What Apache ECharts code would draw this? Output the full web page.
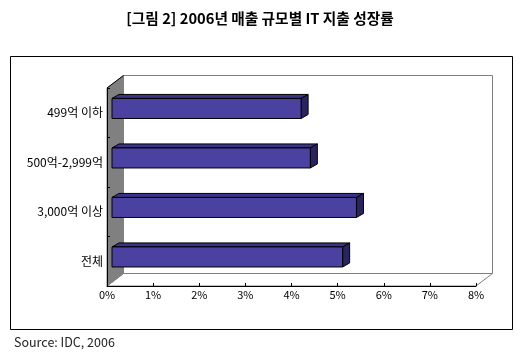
<!DOCTYPE html>
<html>
<head>
<meta charset="utf-8">
<script src="https://cdn.jsdelivr.net/npm/echarts@6/dist/echarts.min.js"></script>
<style>
html,body{margin:0;padding:0;background:#fff;}
#c{width:520px;height:360px;}
</style>
</head>
<body>
<div id="c"></div>
<script>
// ---- data ----
var categories = ['499억 이하', '500억-2,999억', '3,000억 이상', '전체'];
var growthRates = [4.1, 4.3, 5.3, 5.0];
var xTicks = [0, 1, 2, 3, 4, 5, 6, 7, 8];
var titleText = '[그림 2] 2006년 매출 규모별 IT 지출 성장률';
var sourceText = 'Source: IDC, 2006';

var FONT = '"Noto Sans CJK KR", "Noto Sans", sans-serif';
var WALL_DX = 16.5, WALL_DY = -12.5;
var BAR_OX = 5, BAR_OY = -4.3, BAR_DX = 7, BAR_DY = -4;

var chart = echarts.init(document.getElementById('c'));

function renderWalls(params, api) {
  var cs = params.coordSys;
  var x = cs.x, y = cs.y, w = cs.width, h = cs.height;
  var dx = WALL_DX, dy = WALL_DY;
  return {
    type: 'group',
    children: [
      { type: 'rect', shape: { x: x + dx, y: y + dy, width: w, height: h },
        style: { fill: '#ffffff', stroke: '#808080', lineWidth: 1 } },
      { type: 'polygon', shape: { points: [[x, y + h], [x + w, y + h], [x + w + dx, y + h + dy], [x + dx, y + h + dy]] },
        style: { fill: '#ffffff', stroke: '#808080', lineWidth: 1 } },
      { type: 'polygon', shape: { points: [[x, y], [x + dx, y + dy], [x + dx, y + h + dy], [x, y + h]] },
        style: { fill: '#808080', stroke: '#808080', lineWidth: 1 } },
      { type: 'polyline', shape: { points: [[x, y], [x + dx, y + dy]] },
        style: { stroke: '#000000', lineWidth: 1, fill: null } }
    ]
  };
}

function renderBar(params, api) {
  var cat = api.value(1);
  var val = api.value(0);
  var s = api.coord([0, cat]);
  var e = api.coord([val, cat]);
  var band = api.size([0, 1])[1];
  var bh = band * 0.405;
  var x0 = s[0] + BAR_OX, x1 = e[0] + BAR_OX;
  var yc = s[1] + BAR_OY;
  var top = yc - bh / 2, bot = yc + bh / 2;
  var dx = BAR_DX, dy = BAR_DY;
  var st = { stroke: '#000000', lineWidth: 1 };
  return {
    type: 'group',
    children: [
      { type: 'polygon', shape: { points: [[x0, top], [x1, top], [x1 + dx, top + dy], [x0 + dx, top + dy]] },
        style: Object.assign({ fill: '#3a3387' }, st) },
      { type: 'polygon', shape: { points: [[x1, top], [x1 + dx, top + dy], [x1 + dx, bot + dy], [x1, bot]] },
        style: Object.assign({ fill: '#29245e' }, st) },
      { type: 'rect', shape: { x: x0, y: top, width: x1 - x0, height: bot - top },
        style: Object.assign({ fill: '#4b41a1' }, st) }
    ]
  };
}

var barData = growthRates.map(function (v, i) { return [v, i]; });

chart.setOption({
  animation: false,
  backgroundColor: '#ffffff',
  title: [
    { text: titleText, left: 'center', top: 6,
      textStyle: { fontFamily: FONT, fontSize: 14.7, fontWeight: 'bold', color: '#000' } },
    { text: sourceText, left: 9, top: 331,
      textStyle: { fontFamily: FONT, fontSize: 12.5, fontWeight: 'normal', color: '#222' } }
  ],
  graphic: [
    { type: 'rect', left: 8, top: 54, z: 0,
      shape: { x: 0, y: 0, width: 502, height: 273 },
      style: { fill: null, stroke: '#000', lineWidth: 1 } }
  ],
  grid: { left: 107, top: 88, right: 44, bottom: 74, containLabel: false },
  xAxis: {
    type: 'value', min: xTicks[0], max: xTicks[xTicks.length - 1], interval: 1, z: 10,
    axisLine: { show: true, lineStyle: { color: '#000', width: 1 } },
    axisTick: { show: true, inside: true, length: 3, lineStyle: { color: '#000' } },
    splitLine: { show: false },
    axisLabel: { formatter: '{value}%', fontFamily: FONT, fontSize: 11, color: '#000', margin: 3 }
  },
  yAxis: {
    type: 'category', data: categories, inverse: true, z: 10,
    axisLine: { show: true, lineStyle: { color: '#000', width: 1 } },
    axisTick: { show: true, inside: true, length: 3, lineStyle: { color: '#000' } },
    axisLabel: { fontFamily: FONT, fontSize: 12, color: '#000', margin: 4 }
  },
  series: [
    { type: 'custom', z: 1, renderItem: renderWalls, data: [[0, 0]], encode: { x: 0, y: 1 }, silent: true },
    { type: 'custom', z: 3, renderItem: renderBar, data: barData, encode: { x: 0, y: 1 } }
  ]
});
</script>
</body>
</html>
